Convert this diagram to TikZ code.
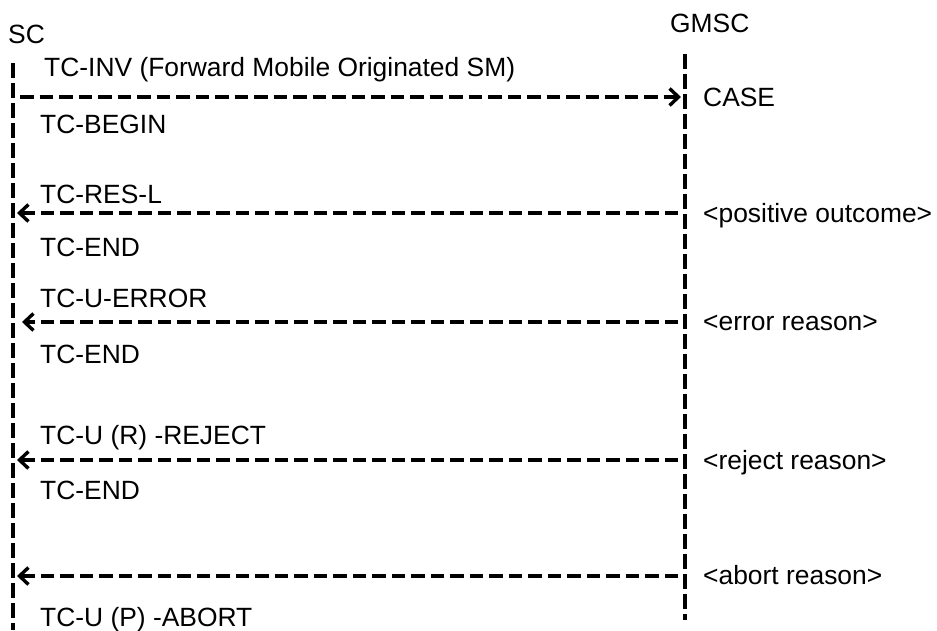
\documentclass[tikz,border=0pt]{standalone}
\usepackage{fontspec}
\setmainfont{Liberation Sans}
\usetikzlibrary{arrows.meta}
\begin{document}
\begin{tikzpicture}[x=1pt,y=-1pt,
  lbl/.style={anchor=base west,inner sep=0pt,font=\fontsize{26.4}{30}\selectfont},
  lifeline/.style={line width=3.4pt,dash pattern=on 15pt off 5pt},
  msg/.style={line width=3.4pt,dash pattern=on 13.5pt off 6pt,-{Straight Barb[length=9pt,width=17pt]}}]
\useasboundingbox (0,0) rectangle (937,630);
% headers
\node[lbl] (sc) at (8,43) {SC};
\node[lbl] (gmsc) at (670,32) {GMSC};
% lifelines
\coordinate (sctop) at (13,63);
\coordinate (scbot) at (13,630);
\coordinate (gtop) at (685,54);
\coordinate (gbot) at (685,620);
\draw[lifeline] (sctop) -- (scbot);
\draw[lifeline] (gtop) -- (gbot);
% message endpoints
\coordinate (a1s) at (20,97);  \coordinate (a1e) at (681,97);
\coordinate (a2s) at (678,213); \coordinate (a2e) at (17,213);
\coordinate (a3s) at (678,322); \coordinate (a3e) at (22,322);
\coordinate (a4s) at (678,460); \coordinate (a4e) at (17,460);
\coordinate (a5s) at (678,576); \coordinate (a5e) at (17,576);
\draw[msg] (a1s) -- (a1e);
\draw[msg] (a2s) -- (a2e);
\draw[msg] (a3s) -- (a3e);
\draw[msg] (a4s) -- (a4e);
\draw[msg] (a5s) -- (a5e);
% left labels
\node[lbl] (t1) at (44,76) {TC-INV (Forward Mobile Originated SM)};
\node[lbl] (t2) at (40,133) {TC-BEGIN};
\node[lbl] (t3) at (40,203) {TC-RES-L};
\node[lbl] (t4) at (40,256) {TC-END};
\node[lbl] (t5) at (40,307) {TC-U-ERROR};
\node[lbl] (t6) at (40,363) {TC-END};
\node[lbl] (t7) at (40,444) {TC-U (R) -REJECT};
\node[lbl] (t8) at (40,499) {TC-END};
\node[lbl] (t9) at (40,626) {TC-U (P) -ABORT};
% right labels
\node[lbl] (r1) at (703,106) {CASE};
\node[lbl] (r2) at (703,222) {<positive outcome>};
\node[lbl] (r3) at (703,330) {<error reason>};
\node[lbl] (r4) at (703,469) {<reject reason>};
\node[lbl] (r5) at (703,584) {<abort reason>};
\end{tikzpicture}
\end{document}
